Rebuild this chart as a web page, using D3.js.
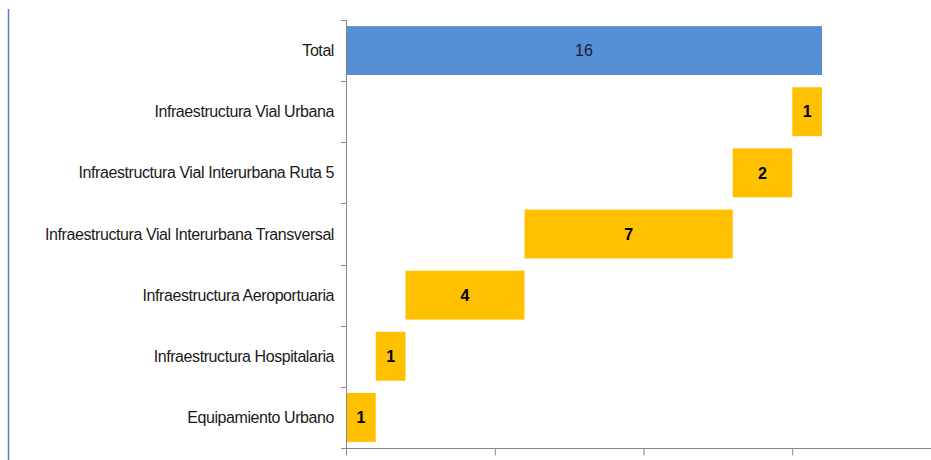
<!DOCTYPE html>
<html>
<head>
<meta charset="utf-8">
<script src="https://cdn.jsdelivr.net/npm/d3@7"></script>
<style>
body { margin: 0; background: #fff; }
svg { display: block; }
</style>
</head>
<body>
<svg id="chart" width="931" height="460" viewBox="0 0 931 460"></svg>
<script>
// categories, top to bottom
const categories = [
    "Total",
    "Infraestructura Vial Urbana",
    "Infraestructura Vial Interurbana Ruta 5",
    "Infraestructura Vial Interurbana Transversal",
    "Infraestructura Aeroportuaria",
    "Infraestructura Hospitalaria",
    "Equipamiento Urbano"
]
const values = [16, 1, 2, 7, 4, 1, 1]
const xTicks = [0, 5, 10, 15, 20]

const svg = d3.select("#chart")
const plotLeft = 346, plotRight = 941, plotTop = 20, plotBottom = 448

// waterfall: steps stack from the bottom row up, total starts at 0
let running = 0
let rows = categories.map((c, i) => ({name: c, value: values[i]}))
for (let i = rows.length - 1; i >= 1; i--) {
    rows[i].start = running
    running += rows[i].value
    rows[i].end = running
}
rows[0].start = 0
rows[0].end = rows[0].value

const x = d3.scaleLinear().domain([0, 20]).range([plotLeft, plotRight])
const y = d3.scaleBand()
    .domain(categories)
    .range([plotTop, plotBottom])
    .paddingInner(0.2)
    .paddingOuter(0.1)

// left border line
svg.append("line")
    .attr("x1", 8.5).attr("x2", 8.5)
    .attr("y1", 9).attr("y2", 460)
    .attr("stroke", "#4f81bd").attr("stroke-width", 1.5)

// bars
svg.append("g").selectAll("rect")
    .data(rows)
    .enter()
    .append("rect")
    .attr("x", d => x(d.start))
    .attr("width", d => x(d.end) - x(d.start))
    .attr("y", d => y(d.name))
    .attr("height", y.bandwidth())
    .attr("fill", (d, i) => i == 0 ? "#558ed5" : "#ffc000")

// value labels
svg.append("g").selectAll("text")
    .data(rows)
    .enter()
    .append("text")
    .attr("x", d => (x(d.start) + x(d.end)) / 2)
    .attr("y", d => y(d.name) + y.bandwidth() / 2)
    .attr("dy", "0.36em")
    .attr("text-anchor", "middle")
    .attr("font-family", "Liberation Sans, Arial, sans-serif")
    .attr("font-size", 16)
    .attr("font-weight", (d, i) => i == 0 ? "normal" : "bold")
    .attr("fill", (d, i) => i == 0 ? "#17202e" : "#000")
    .text(d => d.value)

// y axis: line with ticks on band edges
const axisColor = "#868686"
svg.append("line")
    .attr("x1", plotLeft + 0.5).attr("x2", plotLeft + 0.5)
    .attr("y1", plotTop).attr("y2", plotBottom)
    .attr("stroke", axisColor)
const edges = d3.range(categories.length + 1).map(i => plotTop + i * (plotBottom - plotTop) / categories.length)
svg.append("g").selectAll("line")
    .data(edges)
    .enter()
    .append("line")
    .attr("x1", plotLeft - 5).attr("x2", plotLeft + 0.5)
    .attr("y1", d => Math.round(d) + 0.5)
    .attr("y2", d => Math.round(d) + 0.5)
    .attr("stroke", axisColor)

// category labels
svg.append("g").selectAll("text")
    .data(categories)
    .enter()
    .append("text")
    .attr("x", 334)
    .attr("y", d => y(d) + y.bandwidth() / 2)
    .attr("dy", "0.35em")
    .attr("text-anchor", "end")
    .attr("font-family", "Liberation Sans, Arial, sans-serif")
    .attr("font-size", 16)
    .attr("letter-spacing", "-0.42")
    .attr("fill", "#1a1a1a")
    .text(d => d)

// x axis
const xAxis = svg.append("g")
    .attr("transform", `translate(0,${plotBottom + 0.5})`)
    .call(d3.axisBottom(x).tickValues(xTicks).tickSize(7).tickFormat(""))
xAxis.select(".domain").attr("stroke", axisColor).attr("d", `M${plotLeft},0H${plotRight}`)
xAxis.selectAll(".tick line").attr("stroke", axisColor)
</script>
</body>
</html>
